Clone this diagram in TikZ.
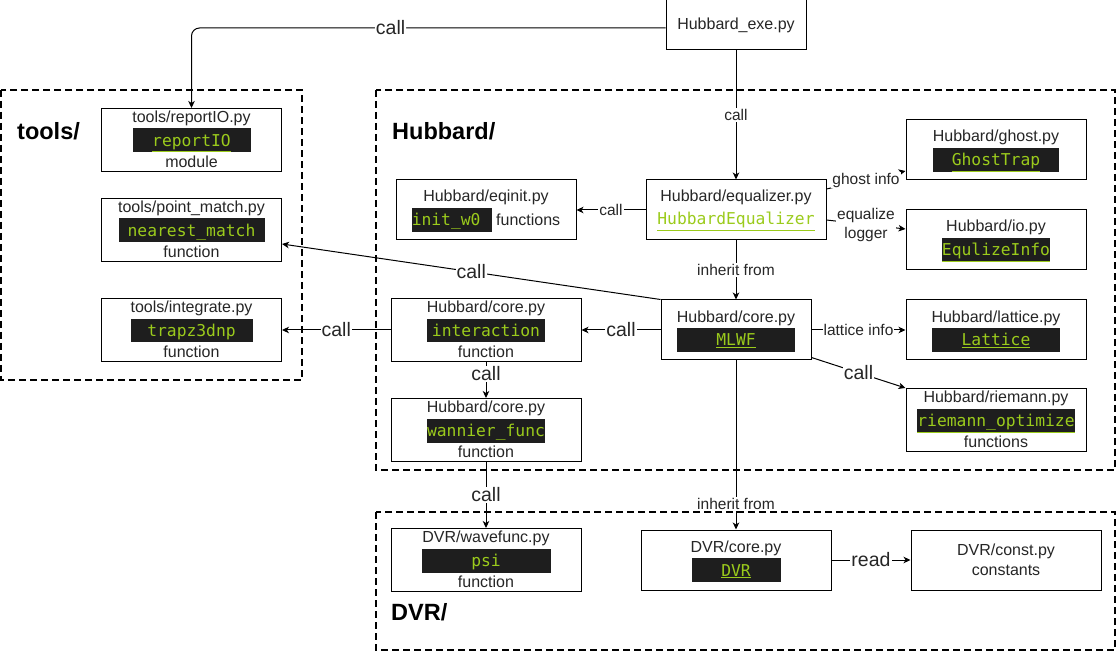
\documentclass[tikz,border=0pt]{standalone}
\usepackage{fontspec}
\setmainfont{Liberation Sans}
\setmonofont[Scale=1.02]{DejaVu Sans Mono}
\usepackage{xcolor}
\definecolor{cText}{HTML}{262626}
\definecolor{cBand}{HTML}{1E1E1E}
\definecolor{cCode}{HTML}{9BCB1C}
\usepackage{tikz}
\usetikzlibrary{positioning,arrows.meta}
% black band with green code name, fixed width
\newcommand{\band}[3][c]{{\fboxsep=0pt\colorbox{cBand}{\makebox[#2][#1]{\rule[-6pt]{0pt}{24pt}\textcolor{cCode}{\texttt{#3}}}}}}
\newcommand{\cls}[1]{\underline{#1}}
\newcommand{\topstr}{\rule[-5pt]{0pt}{19pt}}
\newcommand{\botstr}{\rule[-4pt]{0pt}{18pt}}
\newcommand{\filefont}{\fontsize{16}{0}\selectfont\lineskip=1pt\relax}
\tikzset{
  node-file/.style={draw=black,line width=1pt,fill=white,minimum width=180pt,
    minimum height=60pt,inner sep=0pt,align=center,text=cText,font=\filefont},
  group-box/.style={draw=black,line width=2pt,dash pattern=on 7pt off 4pt},
  group-label/.style={anchor=west,inner sep=0pt,font=\fontsize{23.5}{28}\selectfont\bfseries},
  arrow/.style={-{Stealth[length=7pt,width=6.5pt,inset=2pt]},draw=black,line width=1pt},
  edge-label/.style={fill=white,inner sep=1pt,text=cText,font=\fontsize{15.5}{19}\selectfont},
  edge-label-big/.style={edge-label,font=\fontsize{19.5}{23}\selectfont},
}

\begin{document}
\begin{tikzpicture}[x=1pt,y=-1pt]
  \useasboundingbox (0,0) rectangle (1117,652);
  % folders
  \draw[group-box] (1,90) rectangle (302,380);
  \draw[group-box] (376,90) rectangle (1115,470);
  \draw[group-box] (376,512) rectangle (1115,650);
  \node[group-label] (g-tools) at (17,131) {tools/};
  \node[group-label] (g-hub) at (392,131) {Hubbard/};
  \node[group-label] (g-dvr) at (391,612) {DVR/};

  \node[node-file,minimum width=140pt,minimum height=50pt] (exe) at (736,25) {Hubbard\_exe.py};
  % tools/
  \node[node-file] (report) at (191.5,140) {\topstr tools/reportIO.py\\\band{118pt}{\cls{reportIO}}\\\botstr module};
  \node[node-file] (pm) at (191.5,230) {\topstr tools/point\_match.py\\\band{146pt}{nearest\_match}\\\botstr function};
  \node[node-file] (integ) at (191.5,330) {\topstr tools/integrate.py\\\band{122pt}{trapz3dnp}\\\botstr function};
  % Hubbard/
  \node[node-file] (eqinit) at (486,210) {\topstr Hubbard/eqinit.py\\\band[l]{80pt}{init\_w0}\ functions};
  \node[node-file] (eq) at (736,210) {\topstr Hubbard/equalizer.py\\\rule[-7pt]{0pt}{24pt}\textcolor{cCode}{\cls{\texttt{HubbardEqualizer}}}};
  \node[node-file] (ghost) at (996,150) {\topstr Hubbard/ghost.py\\\band{126pt}{\cls{GhostTrap}}};
  \node[node-file] (io) at (996,240) {\topstr Hubbard/io.py\\\band{108pt}{\cls{EqulizeInfo}}};
  \node[node-file,minimum width=150pt] (mlwf) at (736,330) {\topstr Hubbard/core.py\\\band{118pt}{\cls{MLWF}}};
  \node[node-file] (lattice) at (996,330) {\topstr Hubbard/lattice.py\\\band{128pt}{\cls{Lattice}}};
  \node[node-file] (riemann) at (996,420) {\topstr Hubbard/riemann.py\\\band{158pt}{\cls{riemann\_optimize}}\\\botstr functions};
  \node[node-file,minimum width=190pt] (inter) at (486,330) {\topstr Hubbard/core.py\\\band{118pt}{interaction}\\\botstr function};
  \node[node-file,minimum width=190pt] (wannier) at (486,430) {\topstr Hubbard/core.py\\\band{118pt}{wannier\_func}\\\botstr function};
  % DVR/
  \node[node-file,minimum width=190pt] (psi) at (486,560) {\topstr DVR/wavefunc.py\\\band{129pt}{psi}\\\botstr function};
  \node[node-file,minimum width=190pt] (dvrcore) at (736,560) {\topstr DVR/core.py\\\band{89pt}{\cls{DVR}}};
  \node[node-file,minimum width=190pt] (const) at (1006,560) {\topstr DVR/const.py\\\botstr constants};

  % calls
  \draw[arrow,rounded corners=8pt] ([yshift=-3pt]exe.west) -| node[edge-label-big,pos=0.29] (lb-report) {call} (report.north);
  \draw[arrow] (exe.south) -- node[edge-label] (lb-exe) {call} (eq.north);
  \draw[arrow] (eq.west) -- node[edge-label] (lb-eqinit) {call} (eqinit.east);
  \draw[arrow] ([yshift=21pt]eq.east) -- node[edge-label] (lb-ghost) {ghost info} ([yshift=-21pt]ghost.west);
  \draw[arrow] ([yshift=-10pt]eq.east) -- node[edge-label,align=center] (lb-io) {equalize\\logger} ([yshift=11pt]io.west);
  \draw[arrow] (eq.south) -- node[edge-label] (lb-inh1) {inherit from} (mlwf.north);
  \draw[arrow] (mlwf.north west) -- node[edge-label-big] (lb-pm) {call} ([yshift=-14pt]pm.east);
  \draw[arrow] (mlwf.west) -- node[edge-label-big] (lb-inter) {call} (inter.east);
  \draw[arrow] (mlwf.east) -- node[edge-label] (lb-lattice) {lattice info} (lattice.west);
  \draw[arrow] ([yshift=3pt]mlwf.south east) -- node[edge-label-big] (lb-riemann) {call} (riemann.north west);
  \draw[arrow] (inter.west) -- node[edge-label-big] (lb-integ) {call} (integ.east);
  \draw[arrow] (inter.south) -- node[edge-label-big,pos=0.33] (lb-wannier) {call} (wannier.north);
  \draw[arrow] (wannier.south) -- node[edge-label-big] (lb-psi) {call} (psi.north);
  \draw[arrow] (mlwf.south) -- node[edge-label,pos=0.85] (lb-inh2) {inherit from} (dvrcore.north);
  \draw[arrow] (dvrcore.east) -- node[edge-label-big] (lb-read) {read} (const.west);
\end{tikzpicture}
\end{document}
